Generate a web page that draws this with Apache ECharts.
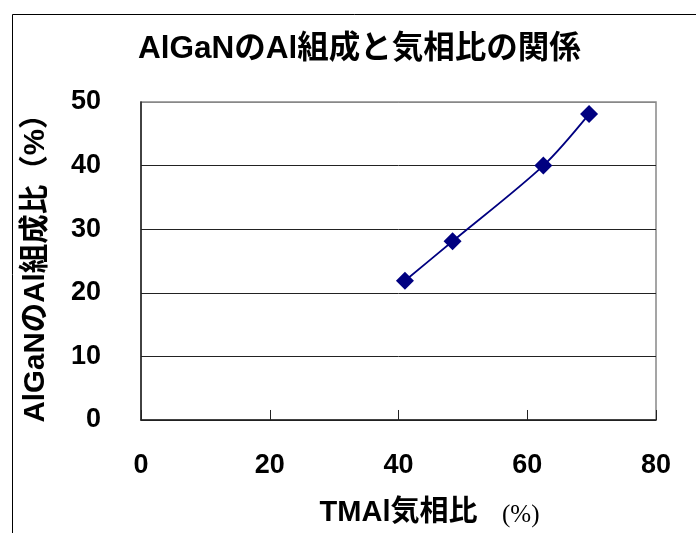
<!DOCTYPE html>
<html>
<head>
<meta charset="utf-8">
<script src="https://cdn.jsdelivr.net/npm/echarts@6/dist/echarts.min.js"></script>
<style>
  html, body { margin: 0; padding: 0; background: #fff; }
  #chart { width: 696px; height: 533px; }
</style>
</head>
<body>
<div id="chart"></div>
<script>
// TMAl vapor ratio (%) vs. Al composition of AlGaN (%)
const tmalRatio = [41.0, 48.4, 62.5, 69.6];
const alComposition = [21.9, 28.1, 40.0, 48.1];
const xTicks = [0, 20, 40, 60, 80];
const yTicks = [0, 10, 20, 30, 40, 50];

const FONT = "'Liberation Sans', 'Noto Sans CJK JP', sans-serif";

const chart = echarts.init(document.getElementById('chart'), null, { renderer: 'canvas' });

chart.setOption({
  backgroundColor: '#ffffff',
  animation: false,
  title: {
    text: 'AlGaNのAl組成と気相比の関係',
    left: 133,
    top: 29,
    textStyle: { fontFamily: FONT, fontSize: 31.5, fontWeight: 'bold', color: '#000' }
  },
  graphic: [
    {
      type: 'rect',
      left: 10, top: 12,
      shape: { width: 720, height: 560 },
      style: { fill: 'none', stroke: '#000', lineWidth: 1 },
      silent: true
    },
    {
      type: 'text',
      left: 502, top: 503,
      style: { text: '(%)', font: "25px 'Liberation Serif', serif", fill: '#000' }
    }
  ],
  grid: {
    left: 141, top: 102, right: 40, bottom: 113,
    show: true, borderColor: '#888', borderWidth: 1.5, backgroundColor: '#fff'
  },
  xAxis: {
    type: 'value',
    min: xTicks[0], max: xTicks[xTicks.length - 1], interval: xTicks[1] - xTicks[0],
    name: 'TMAl気相比',
    nameLocation: 'middle',
    nameGap: 79,
    nameTextStyle: { fontFamily: FONT, fontSize: 29, fontWeight: 'bold', color: '#000' },
    axisLine: { show: true, lineStyle: { color: '#222', width: 1.5 } },
    axisTick: { show: true, inside: true, length: 10, lineStyle: { color: '#222', width: 1 } },
    axisLabel: { margin: 32, fontFamily: FONT, fontSize: 27, fontWeight: 'bold', color: '#000' },
    splitLine: { show: false }
  },
  yAxis: {
    type: 'value',
    min: yTicks[0], max: yTicks[yTicks.length - 1], interval: yTicks[1] - yTicks[0],
    name: 'AlGaNのAl組成比（%）',
    nameLocation: 'middle',
    nameGap: 90,
    nameRotate: 90,
    nameTextStyle: { fontFamily: FONT, fontSize: 29.5, fontWeight: 'bold', color: '#000' },
    axisLine: { show: true, lineStyle: { color: '#222', width: 1.5 } },
    axisTick: { show: false },
    axisLabel: { margin: 40, fontFamily: FONT, fontSize: 27, fontWeight: 'bold', color: '#000' },
    splitLine: {
      show: true,
      lineStyle: { color: ['#222', '#222', '#222', '#222', '#222', '#888'], width: 1 }
    }
  },
  series: [{
    type: 'line',
    data: tmalRatio.map((x, i) => [x, alComposition[i]]),
    smooth: 0.3,
    symbol: 'diamond',
    symbolSize: 18,
    lineStyle: { color: '#000080', width: 1.8 },
    itemStyle: { color: '#000080' }
  }]
});
</script>
</body>
</html>
